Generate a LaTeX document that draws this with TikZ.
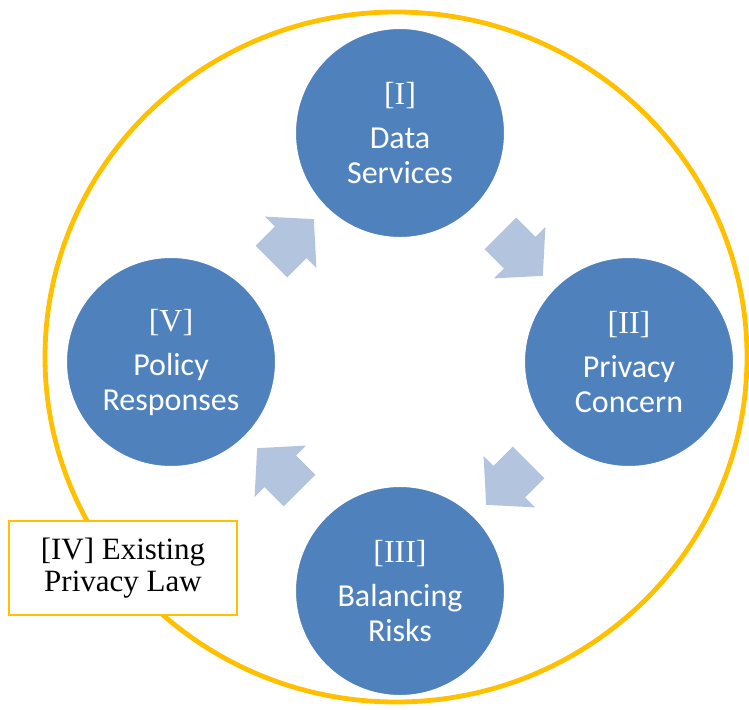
\documentclass[tikz,border=0pt]{standalone}
\usepackage{fontspec}
\setmainfont{Liberation Serif}
\setsansfont{Carlito}
\usetikzlibrary{shapes.arrows}

\definecolor{stageblue}{HTML}{4F81BD}
\definecolor{flowblue}{HTML}{B3C4DF}
\definecolor{lawyellow}{HTML}{FFC000}

\tikzset{
	stage/.style = {circle, fill=stageblue, draw=white, line width=1pt, minimum size=105pt, inner sep=0pt,
		text=white, align=center, font=\sffamily\fontsize{16}{17.5}\selectfont},
	flow/.style = {single arrow, fill=flowblue, sloped, allow upside down, minimum height=30pt,
		minimum width=36pt, single arrow head extend=7pt, single arrow tip angle=96,
		inner xsep=0pt, inner ysep=11pt},
	lawbox/.style = {draw=lawyellow, line width=0.8pt, fill=white, minimum width=114pt, minimum height=47pt,
		inner sep=0pt, align=center, font=\rmfamily\fontsize{15.5}{16}\selectfont}
}

\newcommand{\stagenum}[1]{{\rmfamily\fontsize{16}{17}\selectfont[#1]}\\[4.5pt]}

\begin{document}
\begin{tikzpicture}[x=0.5pt, y=-0.5pt]
	\useasboundingbox (0,0) rectangle (749,710);

	% outer ring
	\draw[lawyellow, line width=2.4pt] (396,357) ellipse [x radius=175.5pt, y radius=172.5pt];

	% the four stages
	\node[stage] (services) at (400,133) {\stagenum{I}Data\\Services};
	\node[stage] (concern)  at (629,362) {\stagenum{II}Privacy\\Concern};
	\node[stage] (risks)    at (400,591) {\stagenum{III}Balancing\\Risks};
	\node[stage] (policy)   at (171,362) {\stagenum{V}Policy\\Responses};

	% flow between stages
	\path (services) -- node[flow] {} (concern);
	\path (concern) -- node[flow] {} (risks);
	\path (risks) -- node[flow] {} (policy);
	\path (policy) -- node[flow] {} (services);

	\node[lawbox] (law) at (123,568) {[IV] Existing\\Privacy Law};
\end{tikzpicture}
\end{document}
